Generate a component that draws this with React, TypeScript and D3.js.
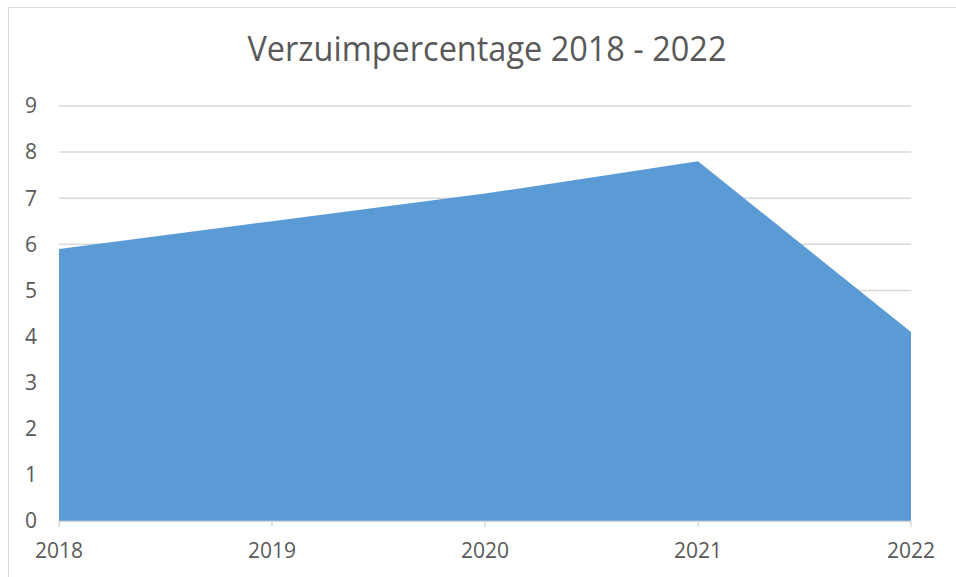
import React from 'react';
import * as d3 from 'd3';

const years = ['2018', '2019', '2020', '2021', '2022'];
const verzuim = [5.9, 6.5, 7.1, 7.8, 4.1];
const yTicks = [0, 1, 2, 3, 4, 5, 6, 7, 8, 9];

const width = 956;
const height = 577;
const margin = { top: 106, right: 45, bottom: 56, left: 59 };

const textColor = '#595959';
const gridColor = '#D9D9D9';
const fillColor = '#5B9BD5';

const App: React.FC = () => {
   const x = d3
      .scalePoint<string>()
      .domain(years)
      .range([margin.left, width - margin.right]);

   const y = d3
      .scaleLinear()
      .domain([0, 9])
      .range([height - margin.bottom, margin.top]);

   const area = d3
      .area<number>()
      .x((_, i) => x(years[i]) ?? 0)
      .y0(y(0))
      .y1((d) => y(d));

   const font = '"Open Sans", sans-serif';

   return (
      <svg
         width={width}
         height={height}
         style={{ position: 'absolute', left: 0, top: 0, display: 'block', background: '#fff' }}
      >
         {/* chart border */}
         <rect x={8.5} y={7.5} width={1000} height={1000} fill="none" stroke={gridColor} strokeWidth={1} />

         <text
            x={487}
            y={61}
            textAnchor="middle"
            fill={textColor}
            fontFamily={font}
            fontSize={35}
            textLength={479}
            lengthAdjust="spacingAndGlyphs"
         >
            Verzuimpercentage 2018 - 2022
         </text>

         {/* gridlines */}
         {yTicks.slice(1).map((t) => (
            <line
               key={t}
               x1={margin.left}
               x2={width - margin.right}
               y1={y(t)}
               y2={y(t)}
               stroke={gridColor}
               strokeWidth={1.5}
            />
         ))}

         <path d={area(verzuim) ?? ''} fill={fillColor} />

         {/* x axis */}
         <line
            x1={margin.left}
            x2={width - margin.right}
            y1={y(0) + 0.5}
            y2={y(0) + 0.5}
            stroke={gridColor}
            strokeWidth={1.5}
         />
         {years.map((yr) => (
            <g key={yr}>
               <line
                  x1={x(yr)}
                  x2={x(yr)}
                  y1={y(0)}
                  y2={y(0) + 6}
                  stroke={gridColor}
                  strokeWidth={1.5}
               />
               <text
                  x={x(yr)}
                  y={558}
                  textAnchor="middle"
                  fill={textColor}
                  fontFamily={font}
                  fontSize={21}
               >
                  {yr}
               </text>
            </g>
         ))}

         {yTicks.map((t) => (
            <text
               key={t}
               x={37}
               y={y(t)}
               dy="0.35em"
               textAnchor="end"
               fill={textColor}
               fontFamily={font}
               fontSize={21}
            >
               {t}
            </text>
         ))}
      </svg>
   );
};

export default App;
